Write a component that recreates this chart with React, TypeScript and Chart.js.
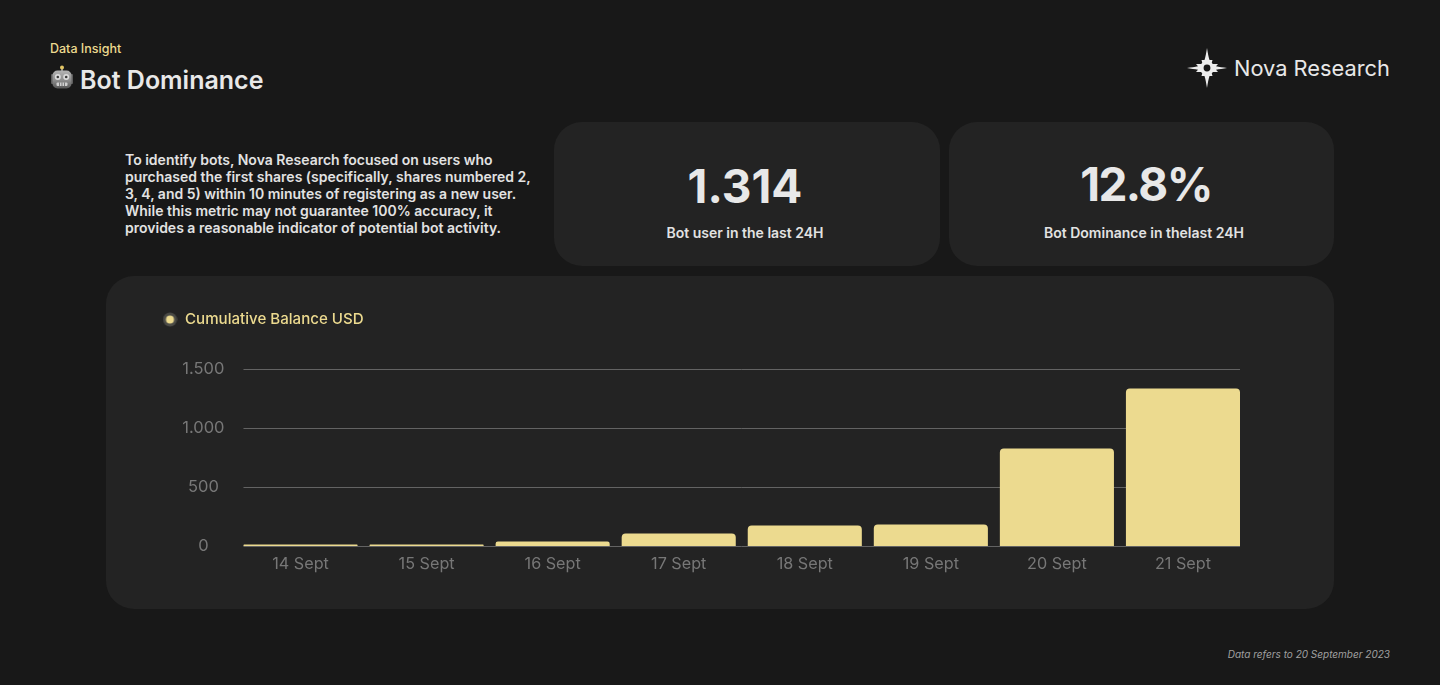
import React, { useEffect, useRef } from "react";
import { Chart, registerables } from "chart.js";

Chart.register(...registerables);

const categories = ["14 Sept", "15 Sept", "16 Sept", "17 Sept", "18 Sept", "19 Sept", "20 Sept", "21 Sept"];
const botBalance = [12, 12, 38, 106, 174, 182, 826, 1335];
const yTicks = [0, 500, 1000, 1500];
const seriesName = "Cumulative Balance USD";
const descriptionLines = [
  "To identify bots, Nova Research focused on users who",
  "purchased the first shares (specifically, shares numbered 2,",
  "3, 4, and 5) within 10 minutes of registering as a new user.",
  "While this metric may not guarantee 100% accuracy, it",
  "provides a reasonable indicator of potential bot activity.",
];

const FONT = "Inter, 'Noto Sans', sans-serif";
const GOLD = "#ECDA8F";

function makeLegendDot() {
  const c = document.createElement("canvas");
  c.width = 15;
  c.height = 15;
  const g = c.getContext("2d")!;
  g.fillStyle = "#4a4a46";
  g.beginPath();
  g.arc(7.5, 7.5, 7, 0, Math.PI * 2);
  g.fill();
  g.fillStyle = GOLD;
  g.beginPath();
  g.arc(7.5, 7.5, 4, 0, Math.PI * 2);
  g.fill();
  return c;
}

const gridPlugin = {
  id: "insetGrid",
  beforeLayout(chart: any) {
    const legend = chart.legend;
    if (legend && !legend.__patched) {
      const fit = legend.fit;
      legend.fit = function () {
        fit.call(this);
        this.height += 32;
      };
      legend.__patched = true;
    }
  },
  beforeDatasetsDraw(chart: any) {
    const { ctx, scales } = chart;
    const bars = chart.getDatasetMeta(0).data;
    const left = bars[0].x - bars[0].width / 2;
    const last = bars[bars.length - 1];
    const right = last.x + last.width / 2;
    ctx.save();
    ctx.strokeStyle = "#636363";
    ctx.lineWidth = 1;
    yTicks.forEach((v) => {
      const y = Math.round(scales.y.getPixelForValue(v)) + 0.5;
      ctx.beginPath();
      ctx.moveTo(left, y);
      ctx.lineTo(right, y);
      ctx.stroke();
    });
    ctx.restore();
  },
};

function Text({ x, y, right, w, center, children, style }: any) {
  const s: any = { position: "absolute", top: y, whiteSpace: "nowrap", ...style };
  if (center) {
    s.left = x;
    s.width = w;
    s.textAlign = "center";
  } else if (right !== undefined) {
    s.right = right;
  } else {
    s.left = x;
  }
  return <div style={s}>{children}</div>;
}

function Card({ x, y, w, h }: any) {
  return <div style={{ position: "absolute", left: x, top: y, width: w, height: h, background: "#232323", borderRadius: 28 }} />;
}

export default function App() {
  const ref = useRef<HTMLCanvasElement>(null);
  useEffect(() => {
    document.body.style.margin = "0";
    const chart = new Chart(ref.current!, {
      type: "bar",
      data: {
        labels: categories,
        datasets: [
          {
            label: seriesName,
            data: botBalance,
            backgroundColor: GOLD,
            borderRadius: { topLeft: 4, topRight: 4, bottomLeft: 0, bottomRight: 0 },
            borderSkipped: "bottom",
            barPercentage: 0.905,
            categoryPercentage: 1,
          },
        ],
      },
      plugins: [gridPlugin],
      options: {
        responsive: false,
        animation: false,
        layout: { padding: { left: 56.5, right: 88, top: 36, bottom: 0 } },
        plugins: {
          tooltip: { enabled: false },
          legend: {
            display: true,
            position: "top",
            align: "start",
            labels: {
              usePointStyle: true,
              pointStyle: makeLegendDot(),
              pointStyleWidth: 15,
              color: GOLD,
              padding: 0,
              font: { family: FONT, size: 15.1, weight: "500" },
            },
          },
        },
        scales: {
          x: {
            grid: { display: false, tickLength: 0 },
            border: { display: false },
            ticks: { color: "#777777", font: { family: FONT, size: 16.2 }, padding: 8, maxRotation: 0 },
            afterFit(s: any) {
              s.height = 63;
            },
          },
          y: {
            min: 0,
            max: 1500,
            grid: { display: false, tickLength: 0 },
            border: { display: false },
            afterBuildTicks(s: any) {
              s.ticks = yTicks.map((value) => ({ value }));
            },
            afterFit(s: any) {
              s.width = 75;
            },
            ticks: {
              color: "#777777",
              crossAlign: "center",
              padding: 13,
              font: { family: FONT, size: 16.5 },
              callback: (v: any) => String(v).replace(/\B(?=(\d{3})+$)/g, "."),
            },
          },
        },
      },
    } as any);
    return () => chart.destroy();
  }, []);

  return (
    <div style={{ position: "absolute", left: 0, top: 0, width: 1440, height: 685, background: "#181818", overflow: "hidden", fontFamily: FONT }}>
      <Text x={50} y={41} style={{ fontSize: 12.5, fontWeight: 500, color: GOLD, lineHeight: "16px" }}>Data Insight</Text>
      <svg style={{ position: "absolute", left: 50, top: 65 }} width={25} height={26} viewBox="0 0 25 26">
        <defs>
          <linearGradient id="head" x1="0" y1="0" x2="0" y2="1">
            <stop offset="0" stopColor="#b4b4b4" />
            <stop offset="0.55" stopColor="#8c8c8c" />
            <stop offset="1" stopColor="#565656" />
          </linearGradient>
        </defs>
        <rect x="11" y="2.5" width="2" height="4" fill="#8a8a8a" />
        <circle cx="12" cy="2.5" r="2" fill="#E3C565" />
        <rect x="1" y="9" width="3" height="10" rx="1" fill="#5e5e5e" />
        <rect x="20" y="9" width="3" height="10" rx="1" fill="#5e5e5e" />
        <rect x="2.5" y="5.5" width="19" height="18" rx="5" fill="url(#head)" />
        <circle cx="7.8" cy="12" r="3" fill="#dcdcdc" />
        <circle cx="16.2" cy="12" r="3" fill="#dcdcdc" />
        <circle cx="7.8" cy="12" r="1.3" fill="#3a3a3a" />
        <circle cx="16.2" cy="12" r="1.3" fill="#3a3a3a" />
        <rect x="6.5" y="17.5" width="11" height="3.5" rx="1" fill="#cfcfcf" />
        <path d="M9.5 17.5v3.5M12 17.5v3.5M14.5 17.5v3.5" stroke="#555" strokeWidth="0.7" />
      </svg>
      <Text x={80} y={64} style={{ fontSize: 25, fontWeight: 600, color: "#E8E8E8", lineHeight: "32px" }}>Bot Dominance</Text>

      <svg style={{ position: "absolute", left: 1187, top: 48 }} width={40} height={40} viewBox="0 0 40 40">
        <path
          fillRule="evenodd"
          fill="#EDEDED"
          d="M20 0 C20.8 5 21.5 9 22.5 12 L25.5 12 L24.8 14.5 C25 15.5 25.8 16 27 16 L31 16 L29 18.2 C32 18.8 36 19.4 40 20 C36 20.6 32 21.2 29 21.8 L31 24 L27 24 C25.8 24 25 24.5 24.8 25.5 L25.5 28 L22.5 28 C21.5 31 20.8 35 20 40 C19.2 35 18.5 31 17.5 28 L14.5 28 L15.2 25.5 C15 24.5 14.2 24 13 24 L9 24 L11 21.8 C8 21.2 4 20.6 0 20 C4 19.4 8 18.8 11 18.2 L9 16 L13 16 C14.2 16 15 15.5 15.2 14.5 L14.5 12 L17.5 12 C18.5 9 19.2 5 20 0 Z M20 16.6 A3.4 3.4 0 1 0 20 23.4 A3.4 3.4 0 1 0 20 16.6 Z"
        />
      </svg>
      <Text x={1234} y={54} style={{ fontSize: 21.8, fontWeight: 400, color: "#E8E8E8", lineHeight: "28px" }}>Nova Research</Text>

      <div style={{ position: "absolute", left: 125, top: 151, fontSize: 14, fontWeight: 600, lineHeight: "17px", color: "#E2E2E2", whiteSpace: "nowrap" }}>
        {descriptionLines.map((l) => (
          <div key={l}>{l}</div>
        ))}
      </div>

      <Card x={554} y={122} w={386} h={144} />
      <Card x={949} y={122} w={385} h={144} />
      <Text center x={554} w={382} y={156} style={{ fontSize: 46, fontWeight: 700, color: "#E8E8E8", lineHeight: "60px" }}>1.314</Text>
      <Text center x={554} w={382} y={223} style={{ fontSize: 14, fontWeight: 600, color: "#E2E2E2", lineHeight: "20px" }}>Bot user in the last 24H</Text>
      <Text center x={949} w={394} y={154} style={{ fontSize: 46, fontWeight: 700, letterSpacing: -1.6, color: "#E8E8E8", lineHeight: "60px" }}>12.8%</Text>
      <Text center x={949} w={390} y={223} style={{ fontSize: 14, fontWeight: 600, color: "#E2E2E2", lineHeight: "20px" }}>Bot Dominance in thelast 24H</Text>

      <Card x={106} y={276} w={1228} h={333} />
      <canvas ref={ref} width={1228} height={333} style={{ position: "absolute", left: 106, top: 276, width: 1228, height: 333 }} />

      <Text right={50} y={647} style={{ fontSize: 10, fontStyle: "italic", color: "#A0A0A0", lineHeight: "14px" }}>Data refers to 20 September 2023</Text>
    </div>
  );
}
